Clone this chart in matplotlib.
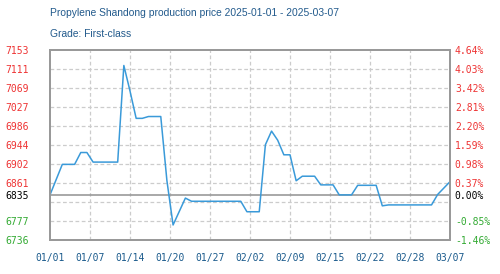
import numpy as np
import pandas as pd
from matplotlib import pyplot as plt

# price points (turning points of the line)
dates = ['2025-01-01', '2025-01-03', '2025-01-05', '2025-01-06', '2025-01-07',
         '2025-01-08', '2025-01-12', '2025-01-13', '2025-01-14', '2025-01-15',
         '2025-01-16', '2025-01-17', '2025-01-19', '2025-01-20', '2025-01-21',
         '2025-01-23', '2025-01-24', '2025-02-01', '2025-02-02', '2025-02-04',
         '2025-02-05', '2025-02-06', '2025-02-07', '2025-02-08', '2025-02-09',
         '2025-02-10', '2025-02-11', '2025-02-13', '2025-02-14', '2025-02-16',
         '2025-02-17', '2025-02-19', '2025-02-20', '2025-02-23', '2025-02-24',
         '2025-02-25', '2025-03-04', '2025-03-05', '2025-03-07']
prices = [6835, 6902, 6902, 6928, 6928,
          6907, 6907, 7119, 7063, 7003,
          7003, 7007, 7007, 6866, 6769,
          6828, 6821, 6821, 6798, 6798,
          6945, 6975, 6955, 6923, 6923,
          6866, 6876, 6876, 6857, 6857,
          6835, 6835, 6856, 6856, 6811,
          6813, 6813, 6836, 6864]

x_labels = ['01/01', '01/07', '01/14', '01/20', '01/27', '02/02',
            '02/09', '02/15', '02/22', '02/28', '03/07']
left_labels = ['7153', '7111', '7069', '7027', '6986', '6944',
               '6902', '6861', '6835', '6777', '6736']
right_labels = ['4.64%', '4.03%', '3.42%', '2.81%', '2.20%', '1.59%',
                '0.98%', '0.37%', '0.00%', '-0.85%', '-1.46%']
base = 6835
y_min, y_max = 6736, 7153

start = pd.Timestamp(dates[0])
days = [(pd.Timestamp(d) - start).days for d in dates]
n_days = (pd.Timestamp('2025-03-07') - start).days

fig = plt.figure(figsize=(5, 2.74), dpi=100)
ax = fig.add_axes([0.1, 34 / 274, 0.8, 190 / 274])

grid_levels = np.linspace(y_min, y_max, 11)
x_ticks = np.linspace(0, n_days, 11)

for lv in grid_levels[1:-1]:
    ax.axhline(lv, color='#cccccc', lw=0.9, ls=(0, (3, 2)), zorder=1)
for xv in x_ticks[1:-1]:
    ax.axvline(xv, color='#cccccc', lw=0.9, ls=(0, (3, 2)), zorder=1)
ax.axhline(base, color='#999999', lw=1.2, zorder=2)

ax.plot(days, prices, color='#3a9ad9', lw=1.1, zorder=3)

ax.set_xlim(0, n_days)
ax.set_ylim(y_min, y_max)

# tick positions: all grid levels except the one hidden by the base line
tick_pos = list(grid_levels[::-1][:8]) + [base] + list(grid_levels[::-1][9:])
ax.set_yticks(tick_pos)
ax.set_yticklabels(left_labels)
ax.set_xticks(x_ticks)
ax.set_xticklabels(x_labels)


def label_color(v):
    if abs(v - base) < 1:
        return '#000000'
    return '#ee3333' if v > base else '#33aa33'


mono = 'DejaVu Sans Mono'
ax.tick_params(axis='both', length=0, labelsize=7)
ax.tick_params(axis='y', pad=15.5)
ax.tick_params(axis='x', pad=9, labelcolor='#1a5a8c')
for lbl, v in zip(ax.get_yticklabels(), tick_pos):
    lbl.set_family(mono)
    lbl.set_color(label_color(v))
for lbl in ax.get_xticklabels():
    lbl.set_family(mono)

ax2 = ax.twinx()
ax2.set_ylim(y_min, y_max)
ax2.set_yticks(tick_pos)
ax2.set_yticklabels(right_labels)
ax2.tick_params(axis='y', length=0, labelsize=7, pad=3.5)
for lbl, v in zip(ax2.get_yticklabels(), tick_pos):
    lbl.set_family(mono)
    lbl.set_color(label_color(v))

for a in (ax, ax2):
    for s in a.spines.values():
        s.set_color('#999999')
        s.set_linewidth(1.3)

fig.text(0.1, 1 - 13 / 274, 'Propylene Shandong production price 2025-01-01 - 2025-03-07',
         fontsize=7.4, family='Liberation Sans', color='#225a8c', va='center')
fig.text(0.1, 1 - 34 / 274, 'Grade: First-class',
         fontsize=7.4, family='Liberation Sans', color='#225a8c', va='center')

fig.savefig('out.png', dpi=100)
